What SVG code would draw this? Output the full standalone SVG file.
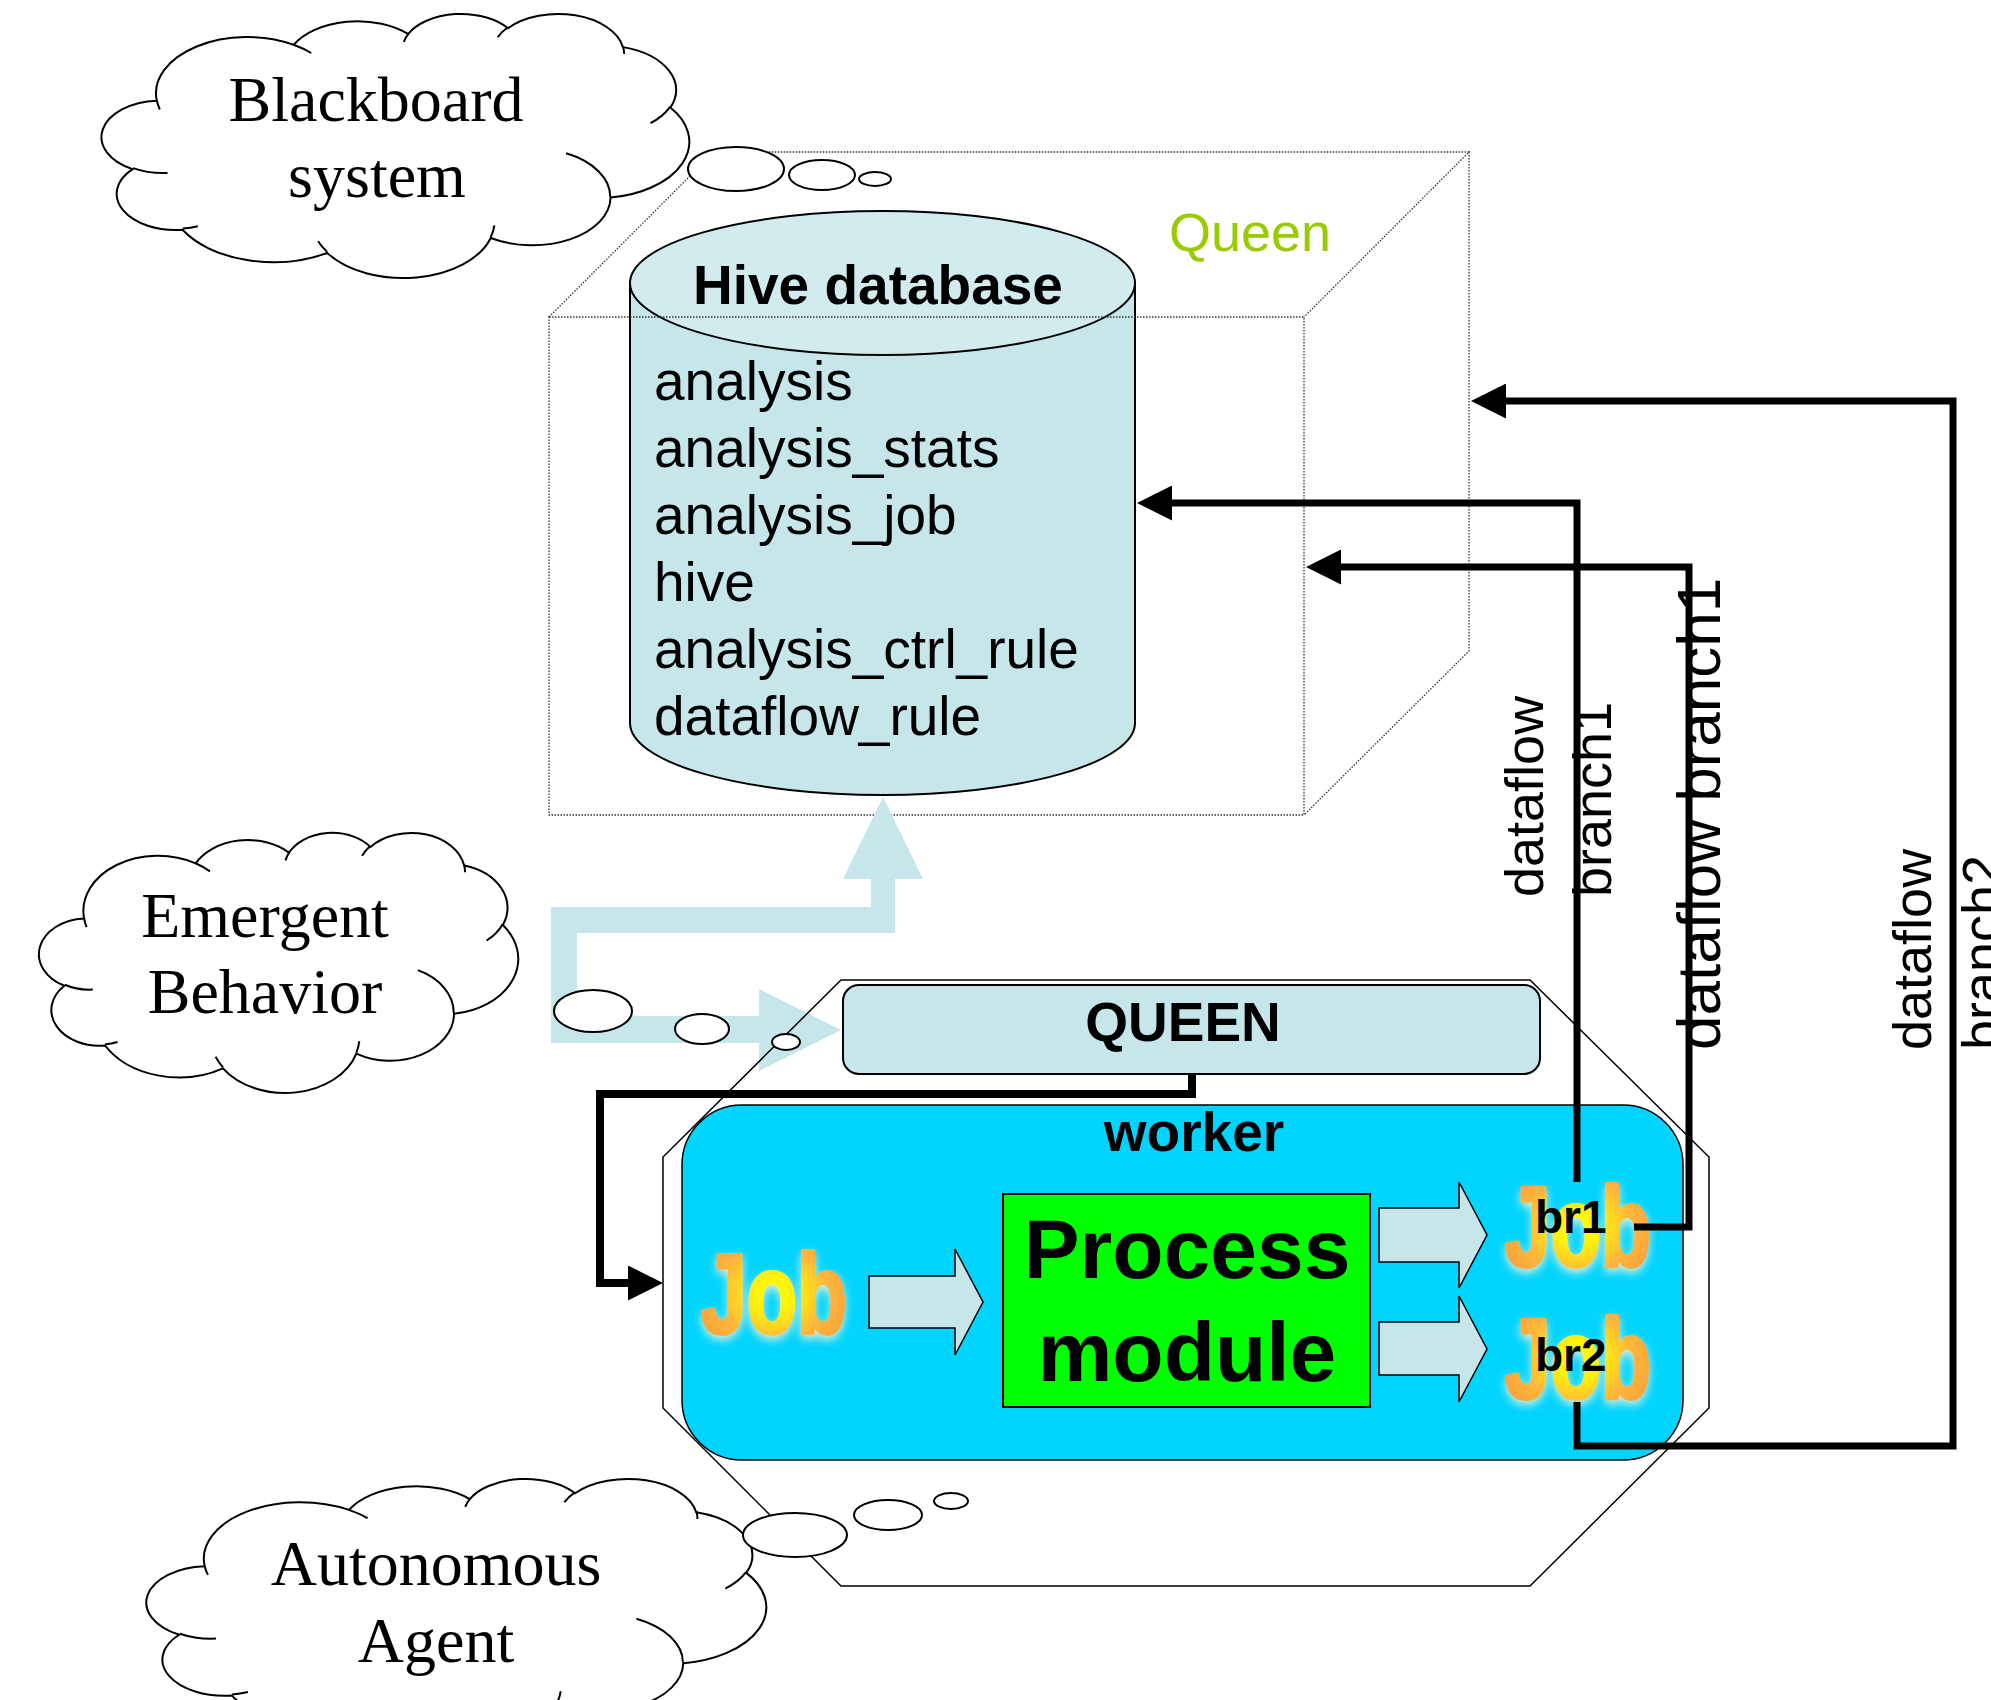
<svg xmlns="http://www.w3.org/2000/svg" width="1991" height="1700" viewBox="0 0 1991 1700">
  <style>
    .cloud { fill: #fff; stroke: #000; stroke-width: 2; }
    .cloud-tick { fill: none; stroke: #000; stroke-width: 2; }
    .bubble { fill: #fff; stroke: #000; stroke-width: 2; }
    .serif { font-family: "Liberation Serif", "Times New Roman", serif; font-size: 64px; text-anchor: middle; fill: #000; }
    .dotted { fill: none; stroke: #333; stroke-width: 1.3; stroke-dasharray: 1.5 1.5; }
    .sans { font-family: "Liberation Sans", Arial, sans-serif; fill: #000; }
    .bold { font-weight: bold; }
    .mid { text-anchor: middle; }
    .conn { fill: none; stroke: #000; stroke-width: 7; stroke-linejoin: miter; marker-end: url(#arrow); }
    .block { fill: #C6E6E9; stroke: #000; stroke-width: 1.5; }
    .job { font-family: "Liberation Sans", Arial, sans-serif; font-weight: bold; font-size: 114px; fill: url(#jobGrad); stroke: url(#jobGrad); stroke-width: 4; stroke-linejoin: round; filter: url(#jobGlow); }
    .br { font-family: "Liberation Sans", Arial, sans-serif; font-weight: bold; font-size: 46px; fill: #000; }
    .rot { font-family: "Liberation Sans", Arial, sans-serif; font-size: 54px; fill: #000; }
  </style>
  <defs>
    <marker id="arrow" viewBox="0 0 35 35" markerUnits="userSpaceOnUse" markerWidth="35" markerHeight="35" refX="2" refY="17.5" orient="auto">
      <path d="M0,0 L35,17.5 L0,35 Z" fill="#000"/>
    </marker>
    <radialGradient id="jobGrad" cx="0.5" cy="0.5" r="0.55">
      <stop offset="0" stop-color="#FFFF00"/>
      <stop offset="0.3" stop-color="#FFEE10"/>
      <stop offset="0.65" stop-color="#FFB83A"/>
      <stop offset="1" stop-color="#F9A23A"/>
    </radialGradient>
    <filter id="jobGlow" x="-15%" y="-15%" width="130%" height="140%">
      <feGaussianBlur in="SourceAlpha" stdDeviation="5" result="blur"/>
      <feOffset in="blur" dy="4" result="off"/>
      <feFlood flood-color="#FFF4D0" flood-opacity="0.85"/>
      <feComposite in2="off" operator="in" result="halo"/>
      <feMerge>
        <feMergeNode in="halo"/>
        <feMergeNode in="SourceGraphic"/>
      </feMerge>
    </filter>
    <!-- cloud callout outline in a 43200 x 43200 unit box -->
    <path id="cloudOutline" vector-effect="non-scaling-stroke" d="M3900,14370 A6753,9190 0 0 1 14006,5203 A5333,7267 0 0 1 22459,3435 A4365,5945 0 0 1 29836,2486 A4857,6595 0 0 1 38321,5582 A5333,7273 0 0 1 41822,15465 A6775,9220 0 0 1 37406,30207 A5785,7867 0 0 1 28558,36817 A6752,9215 0 0 1 16481,39267 A7720,10543 0 0 1 5803,35473 A4360,5918 0 0 1 2113,25551 A4345,5945 0 0 1 3900,14370 Z"/>
    <path id="cloudTicks" vector-effect="non-scaling-stroke" d="M4693,26177 A4345,5945 0 0 1 2159,25380 M6928,34899 A4360,5918 0 0 1 5820,35280 M16478,39090 A6752,9215 0 0 1 15811,37352 M28827,34751 A6752,9215 0 0 1 28561,36660 M34129,22954 A5785,7867 0 0 1 37380,30090 M41798,15354 A5333,7273 0 0 1 40351,18028 M38324,5426 A4857,6595 0 0 1 38400,6689 M29078,3952 A4857,6595 0 0 1 29820,2340 M22141,4720 A4365,5945 0 0 1 22500,3329 M14000,5192 A6753,9190 0 0 1 15302,6543 M4127,15789 A6753,9190 0 0 1 3900,14370"/>
  </defs>

  <rect x="0" y="0" width="1991" height="1700" fill="#fff"/>

  <!-- Queen cube with the hive database -->
  <g id="queen-cube">
    <path d="M630,283 L630,723 A252.5,72 0 0 0 1135,723 L1135,283 Z" fill="#C6E6E9" stroke="#000" stroke-width="2"/>
    <ellipse cx="882.5" cy="283" rx="252.5" ry="72" fill="#D2ECEE" stroke="#000" stroke-width="2"/>
    <text class="sans bold mid" x="878" y="304" font-size="55">Hive database</text>
    <g class="sans" font-size="55">
      <text x="654" y="400">analysis</text>
      <text x="654" y="467">analysis_stats</text>
      <text x="654" y="534">analysis_job</text>
      <text x="654" y="601">hive</text>
      <text x="654" y="668">analysis_ctrl_rule</text>
      <text x="654" y="735">dataflow_rule</text>
    </g>
    <rect class="dotted" x="549" y="317" width="755" height="498"/>
    <path class="dotted" d="M549,317 L714,152 L1469,152 L1304,317 M1469,152 L1469,651 L1304,815"/>
    <text class="sans" x="1169" y="251" font-size="54" style="fill:#99CC00">Queen</text>
  </g>

  <!-- wide pale arrows from the emergent behaviour -->
  <g id="emergent-flow">
    <polygon fill="#C6E6E9" points="551,907 871,907 871,879 843,879 883,797 923,879 895,879 895,933 577,933 577,1016 759,1016 759,989 841,1030 759,1071 759,1043 551,1043"/>
  </g>

  <!-- autonomous agent frame -->
  <g id="agent-frame">
    <polygon points="841,980 1530,980 1709,1157 1709,1408 1530,1586 841,1586 663,1408 663,1157" fill="none" stroke="#000" stroke-width="1.5"/>
  </g>

  <g id="queen-box">
    <rect x="843" y="985" width="697" height="89" rx="16" ry="16" fill="#C6E6E9" stroke="#000" stroke-width="2"/>
    <text class="sans bold mid" x="1183" y="1041" font-size="55">QUEEN</text>
  </g>

  <g id="worker">
    <rect x="682" y="1105" width="1001" height="355" rx="60" ry="60" fill="#00D4FF" stroke="#000" stroke-width="1.5"/>
    <text class="sans bold mid" x="1194" y="1151" font-size="55">worker</text>
    <text class="job" x="701" y="1333" textLength="146" lengthAdjust="spacingAndGlyphs">Job</text>
    <polygon class="block" points="869,1276 955,1276 955,1249 983,1302 955,1355 955,1328 869,1328"/>
    <g id="process-module">
      <rect x="1003" y="1194" width="367" height="213" fill="#00FF00" stroke="#000" stroke-width="2"/>
      <text class="sans bold mid" x="1187" y="1278" font-size="84">Process</text>
      <text class="sans bold mid" x="1187" y="1381" font-size="84">module</text>
    </g>
    <polygon class="block" points="1379,1208 1459,1208 1459,1182 1487,1235 1459,1288 1459,1262 1379,1262"/>
    <polygon class="block" points="1379,1322 1459,1322 1459,1296 1487,1349 1459,1402 1459,1375 1379,1375"/>
    <g id="job-br1">
      <text class="job" x="1505" y="1266" textLength="146" lengthAdjust="spacingAndGlyphs">Job</text>
      <text class="br" x="1535" y="1233">br1</text>
    </g>
    <g id="job-br2">
      <text class="job" x="1505" y="1398" textLength="146" lengthAdjust="spacingAndGlyphs">Job</text>
      <text class="br" x="1535" y="1371">br2</text>
    </g>
  </g>

  <g id="cloud-emergent">
    <g transform="translate(41,832) scale(0.011042,0.0060185)">
      <use href="#cloudOutline" class="cloud"/>
      <use href="#cloudTicks" class="cloud-tick"/>
    </g>
    <ellipse class="bubble" cx="593" cy="1011" rx="39" ry="21"/>
    <ellipse class="bubble" cx="702" cy="1029" rx="27" ry="15"/>
    <ellipse class="bubble" cx="786" cy="1042" rx="14" ry="8"/>
    <text class="serif" x="265" y="937">Emergent</text>
    <text class="serif" x="265" y="1013">Behavior</text>
  </g>

  <g id="cloud-blackboard">
    <g transform="translate(104,13) scale(0.013542,0.0061111)">
      <use href="#cloudOutline" class="cloud"/>
      <use href="#cloudTicks" class="cloud-tick"/>
    </g>
    <ellipse class="bubble" cx="736" cy="169" rx="48" ry="22"/>
    <ellipse class="bubble" cx="822" cy="175" rx="33" ry="15"/>
    <ellipse class="bubble" cx="875" cy="179" rx="16" ry="7"/>
    <text class="serif" x="376" y="121">Blackboard</text>
    <text class="serif" x="377" y="197">system</text>
  </g>

  <g id="cloud-autonomous">
    <g transform="translate(149,1478) scale(0.014282,0.0061343)">
      <use href="#cloudOutline" class="cloud"/>
      <use href="#cloudTicks" class="cloud-tick"/>
    </g>
    <ellipse class="bubble" cx="795" cy="1535" rx="52" ry="22"/>
    <ellipse class="bubble" cx="888" cy="1515" rx="34" ry="15"/>
    <ellipse class="bubble" cx="951" cy="1501" rx="17" ry="8"/>
    <text class="serif" x="436" y="1585">Autonomous</text>
    <text class="serif" x="436" y="1662">Agent</text>
  </g>

  <!-- connectors -->
  <g id="connectors">
    <path class="conn" style="stroke-width:8" d="M1192,1073 V1094 H600 V1283 H630"/>
    <path class="conn" d="M1577,1182 V503 H1170"/>
    <path class="conn" d="M1634,1227 H1689 V567 H1339"/>
    <path class="conn" d="M1577,1402 V1446 H1953 V401 H1504"/>
    <text class="rot" transform="translate(1543,897) rotate(-90)">dataflow</text>
    <text class="rot" transform="translate(1611,897) rotate(-90)">branch1</text>
    <text class="rot" style="font-size:62px" transform="translate(1720,1050) rotate(-90)">dataflow branch1</text>
    <text class="rot" transform="translate(1931,1050) rotate(-90)">dataflow</text>
    <text class="rot" transform="translate(2000,1050) rotate(-90)">branch2</text>
  </g>
</svg>
